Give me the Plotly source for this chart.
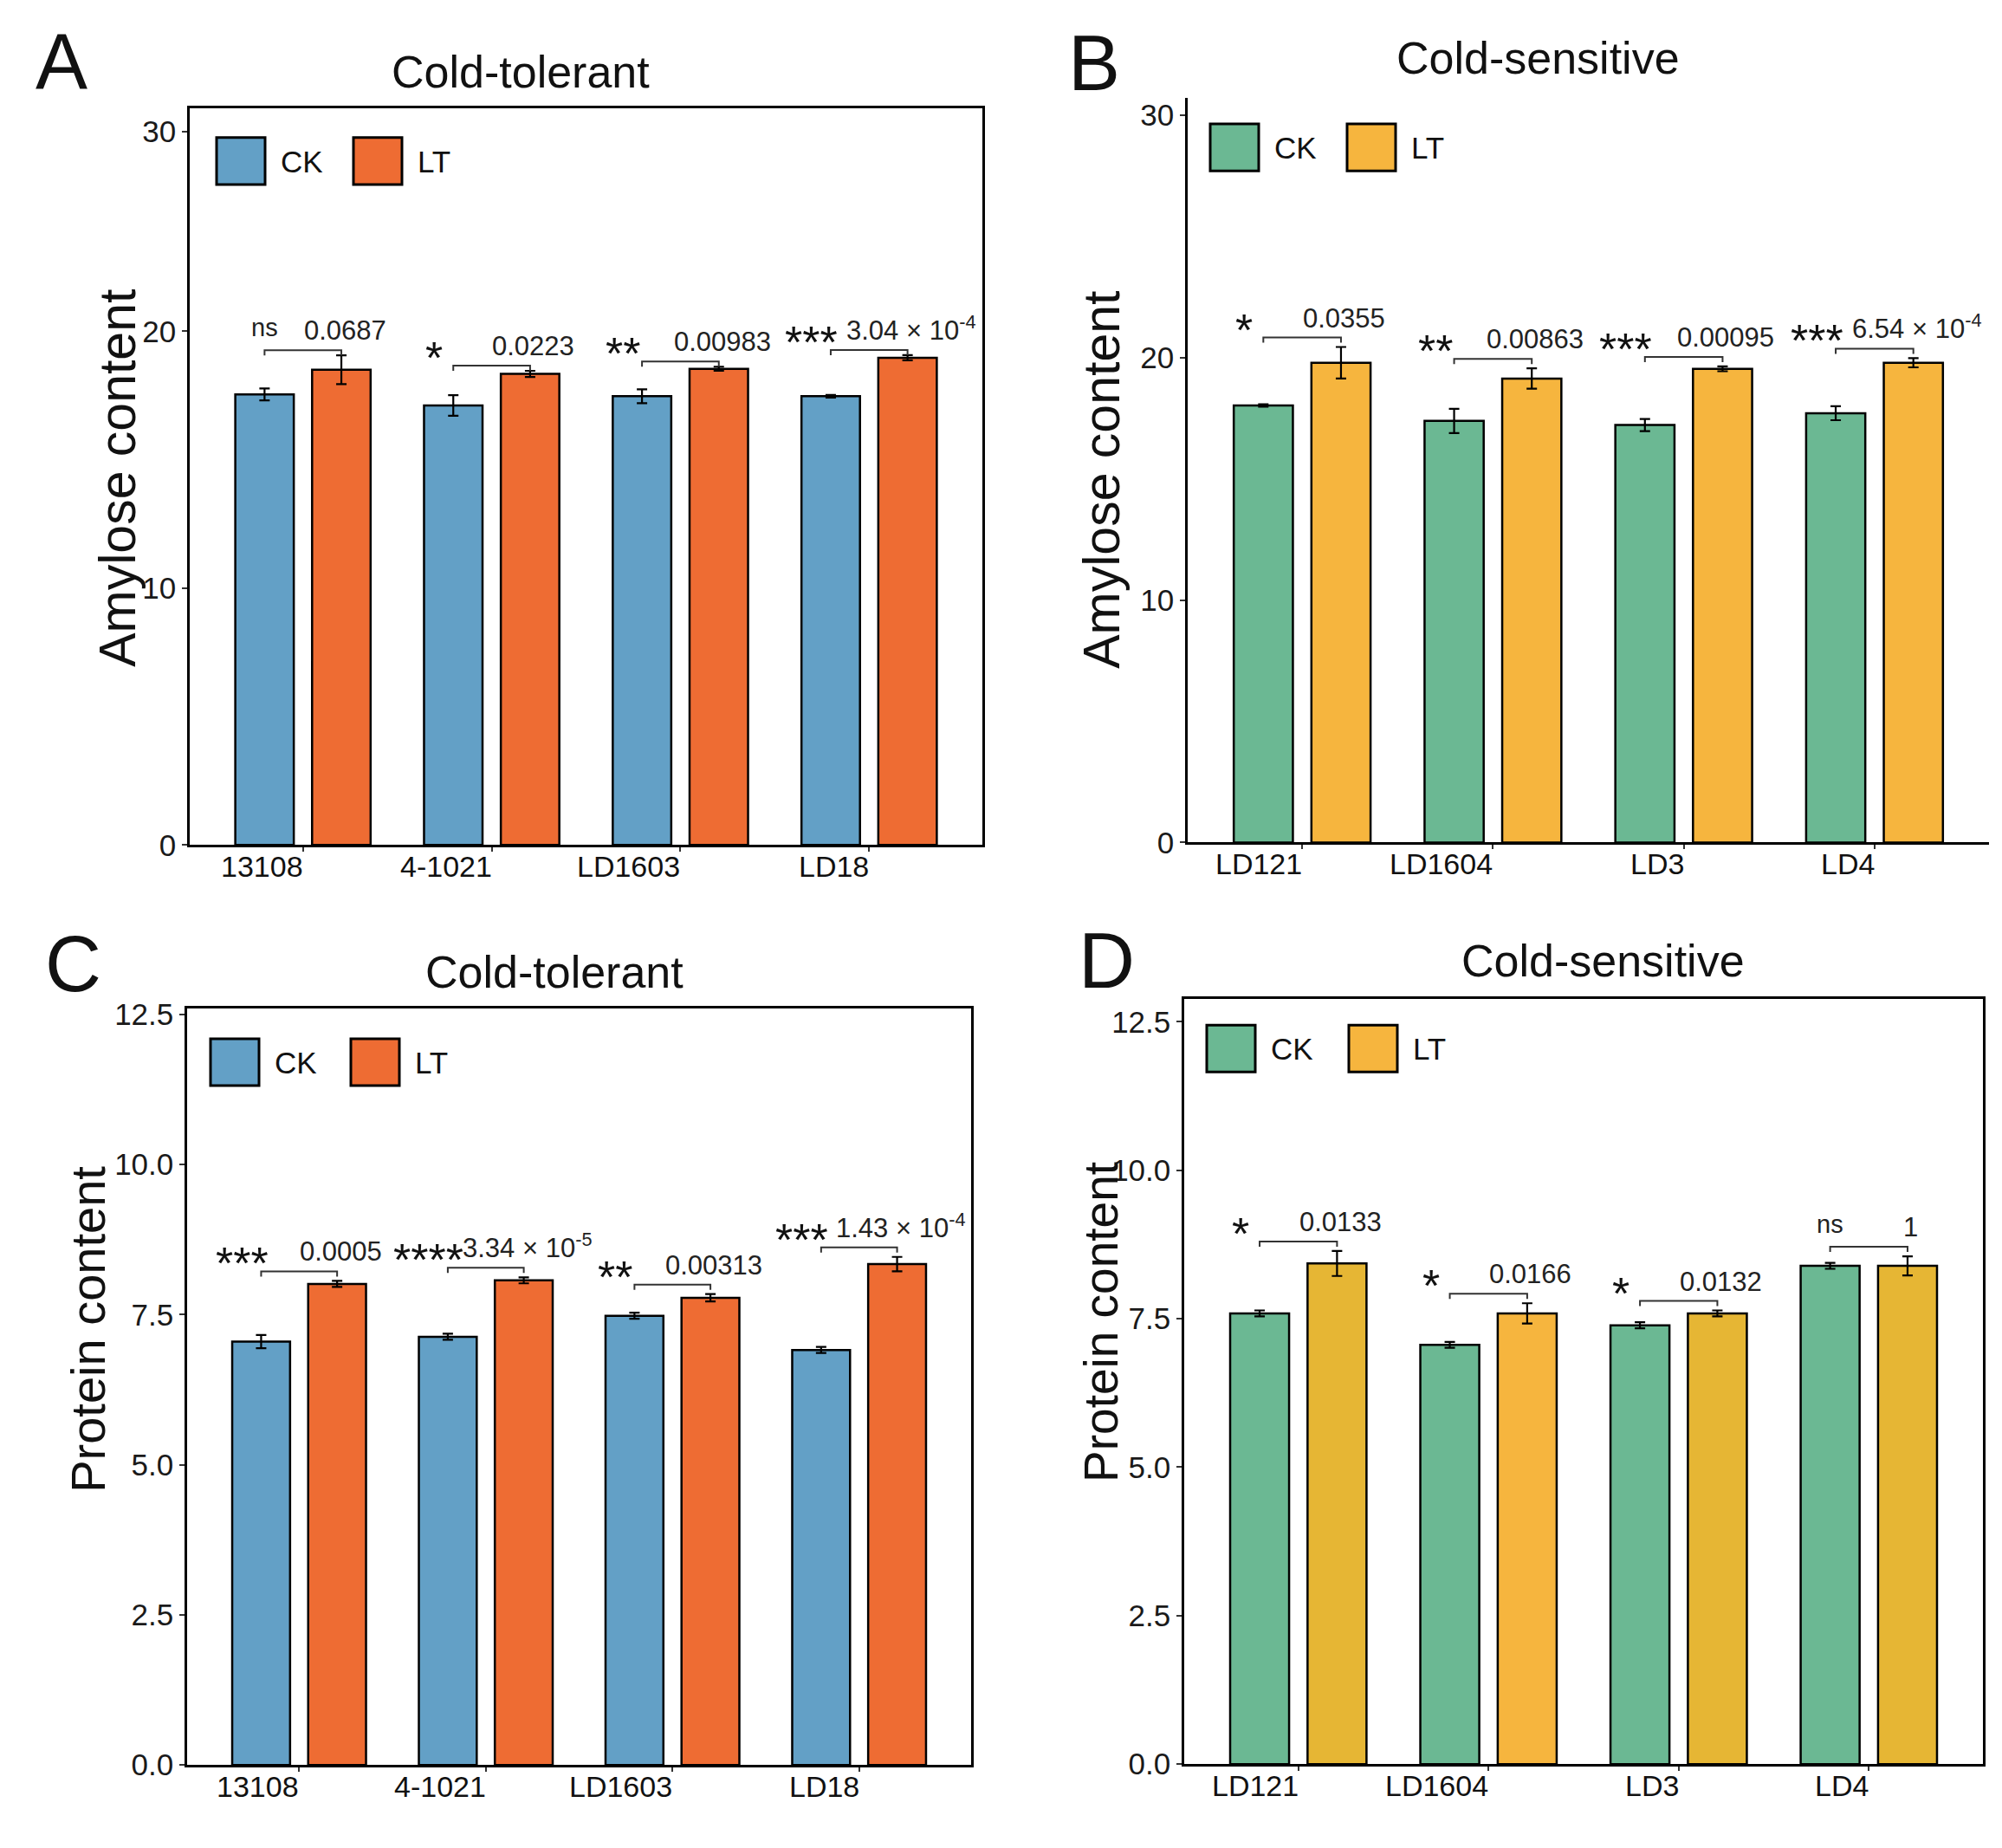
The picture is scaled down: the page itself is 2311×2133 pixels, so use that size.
import plotly.graph_objects as go

# ---- data ----
tolerant_lines = ["13108", "4-1021", "LD1603", "LD18"]
sensitive_lines = ["LD121", "LD1604", "LD3", "LD4"]

# A: amylose, cold-tolerant
amy_tol_ck = [17.54, 17.11, 17.47, 17.47]
amy_tol_ck_sd = [0.23, 0.40, 0.27, 0.05]
amy_tol_lt = [18.50, 18.34, 18.54, 18.97]
amy_tol_lt_sd = [0.56, 0.12, 0.08, 0.10]
amy_tol_sig = ["ns", "*", "**", "***"]
amy_tol_p = ["0.0687", "0.0223", "0.00983", "3.04 × 10<sup>-4</sup>"]

# B: amylose, cold-sensitive
amy_sen_ck = [18.03, 17.39, 17.22, 17.71]
amy_sen_ck_sd = [0.05, 0.50, 0.25, 0.29]
amy_sen_lt = [19.79, 19.14, 19.54, 19.79]
amy_sen_lt_sd = [0.65, 0.42, 0.10, 0.19]
amy_sen_sig = ["*", "**", "***", "***"]
amy_sen_p = ["0.0355", "0.00863", "0.00095", "6.54 × 10<sup>-4</sup>"]

# C: protein, cold-tolerant
pro_tol_ck = [7.05, 7.13, 7.48, 6.91]
pro_tol_ck_sd = [0.11, 0.05, 0.05, 0.05]
pro_tol_lt = [8.01, 8.07, 7.78, 8.34]
pro_tol_lt_sd = [0.05, 0.05, 0.06, 0.12]
pro_tol_sig = ["***", "****", "**", "***"]
pro_tol_p = ["0.0005", "3.34 × 10<sup>-5</sup>", "0.00313", "1.43 × 10<sup>-4</sup>"]

# D: protein, cold-sensitive
pro_sen_ck = [7.59, 7.06, 7.39, 8.39]
pro_sen_ck_sd = [0.05, 0.05, 0.05, 0.05]
pro_sen_lt = [8.43, 7.59, 7.59, 8.39]
pro_sen_lt_sd = [0.21, 0.17, 0.05, 0.16]
pro_sen_sig = ["*", "*", "*", "ns"]
pro_sen_p = ["0.0133", "0.0166", "0.0132", "1"]

W, H = 2311, 2133
FONT = "Liberation Sans, Arial, sans-serif"

BLUE, ORANGE = "#63A0C6", "#EE6C33"
GREEN, YELLOW, YELLOW_D = "#6BB893", "#F6B53E", "#E6B634"


def px(x):
    return x / W


def py(y):
    return 1 - y / H


panels = [
    dict(letter="A", title="Cold-tolerant", ytitle="Amylose content",
         cats=tolerant_lines, ck=amy_tol_ck, ck_sd=amy_tol_ck_sd,
         lt=amy_tol_lt, lt_sd=amy_tol_lt_sd, sig=amy_tol_sig, p=amy_tol_p,
         ck_col=BLUE, lt_col=[ORANGE] * 4, leg_lt=ORANGE,
         box=(219, 1134, 114, 977), ymax=28.67,
         tickvals=[0, 10, 20, 27.77], ticktext=["0", "10", "20", "30"],
         mirror=True, off=6, ptxt=31,
         title_xy=(601, 71), letter_xy=(71, 59), ytitle_xy=(136, 547), ytitle_size=59,
         leg=(250, 148, 408)),
    dict(letter="B", title="Cold-sensitive", ytitle="Amylose content",
         cats=sensitive_lines, ck=amy_sen_ck, ck_sd=amy_sen_ck_sd,
         lt=amy_sen_lt, lt_sd=amy_sen_lt_sd, sig=amy_sen_sig, p=amy_sen_p,
         ck_col=GREEN, lt_col=[YELLOW] * 4, leg_lt=YELLOW,
         box=(1371, 2296, 102, 974), ymax=30.7,
         tickvals=[0, 10, 20, 30], ticktext=["0", "10", "20", "30"],
         mirror=False, off=11, ptxt=31,
         title_xy=(1775, 55), letter_xy=(1263, 61), ytitle_xy=(1272, 549), ytitle_size=59,
         leg=(1397, 132, 1555)),
    dict(letter="C", title="Cold-tolerant", ytitle="Protein content",
         cats=tolerant_lines, ck=pro_tol_ck, ck_sd=pro_tol_ck_sd,
         lt=pro_tol_lt, lt_sd=pro_tol_lt_sd, sig=pro_tol_sig, p=pro_tol_p,
         ck_col=BLUE, lt_col=[ORANGE] * 4, leg_lt=ORANGE,
         box=(216, 1121, 1169, 2055), ymax=12.59,
         tickvals=[0, 2.5, 5, 7.5, 10, 12.5], ticktext=["0.0", "2.5", "5.0", "7.5", "10.0", "12.5"],
         mirror=True, off=11, ptxt=31,
         title_xy=(640, 1126), letter_xy=(84, 1117), ytitle_xy=(102, 1545), ytitle_size=56,
         leg=(243, 1204, 405)),
    dict(letter="D", title="Cold-sensitive", ytitle="Protein content",
         cats=sensitive_lines, ck=pro_sen_ck, ck_sd=pro_sen_ck_sd,
         lt=pro_sen_lt, lt_sd=pro_sen_lt_sd, sig=pro_sen_sig, p=pro_sen_p,
         ck_col=GREEN, lt_col=[YELLOW_D, YELLOW, YELLOW_D, YELLOW_D], leg_lt=YELLOW,
         box=(1367, 2289, 1157, 2054), ymax=12.89,
         tickvals=[0, 2.5, 5, 7.5, 10, 12.5], ticktext=["0.0", "2.5", "5.0", "7.5", "10.0", "12.5"],
         mirror=True, off=11, ptxt=31,
         title_xy=(1850, 1113), letter_xy=(1277, 1113), ytitle_xy=(1271, 1536), ytitle_size=55,
         leg=(1393, 1188, 1557)),
]

BAR_W = 0.31
GAP = 0.097
CK_OFF = -GAP / 2 - BAR_W
LT_OFF = GAP / 2
CK_C = CK_OFF + BAR_W / 2
LT_C = LT_OFF + BAR_W / 2

fig = go.Figure()
shapes = []
annots = []
layout = {}

for k, pn in enumerate(panels):
    n = "" if k == 0 else str(k + 1)
    xa, ya = "x" + n, "y" + n
    pos = list(range(len(pn["cats"])))
    x0, x1, y0, y1 = pn["box"]

    fig.add_trace(go.Bar(
        x=pos, y=pn["ck"], width=BAR_W, offset=CK_OFF, name="CK",
        marker=dict(color=pn["ck_col"], line=dict(color="black", width=2.5)),
        error_y=dict(type="data", array=pn["ck_sd"], color="black", thickness=2.2, width=6),
        xaxis=xa, yaxis=ya, showlegend=False))
    fig.add_trace(go.Bar(
        x=pos, y=pn["lt"], width=BAR_W, offset=LT_OFF, name="LT",
        marker=dict(color=pn["lt_col"], line=dict(color="black", width=2.5)),
        error_y=dict(type="data", array=pn["lt_sd"], color="black", thickness=2.2, width=6),
        xaxis=xa, yaxis=ya, showlegend=False))

    axis_common = dict(showline=True, linecolor="black", linewidth=2.5, mirror=pn["mirror"],
                       showgrid=False, zeroline=False, ticks="outside", ticklen=6,
                       tickwidth=2, tickcolor="#333")
    layout["xaxis" + n] = dict(axis_common, domain=[px(x0), px(x1)], anchor=ya,
                               range=[-0.6, len(pos) - 0.4], tickvals=pos,
                               showticklabels=False, ticklen=5)
    layout["yaxis" + n] = dict(axis_common, domain=[py(y1), py(y0)], anchor=xa,
                               range=[0, pn["ymax"]], tickvals=pn["tickvals"],
                               ticktext=pn["ticktext"],
                               tickfont=dict(family=FONT, size=35, color="#1a1a1a"))

    # significance brackets + labels
    off = pn["off"]
    for i in pos:
        top = max(pn["ck"][i] + pn["ck_sd"][i], pn["lt"][i] + pn["lt_sd"][i])
        xl, xr = i + CK_C, i + LT_C
        shapes.append(dict(
            type="path", xref=xa, yref=ya, ysizemode="pixel", yanchor=top,
            path=f"M{xl},{off - 6} L{xl},{off} L{xr},{off} L{xr},{off - 6}",
            line=dict(color="#333", width=2)))
        s = pn["sig"][i]
        if s == "ns":
            annots.append(dict(text=s, x=xl, y=top, xref=xa, yref=ya, xanchor="center",
                               yanchor="bottom", yshift=off + 8, showarrow=False,
                               font=dict(family=FONT, size=29, color="#222")))
        else:
            annots.append(dict(text=s, x=xl, y=top, xref=xa, yref=ya, xanchor="center",
                               yanchor="bottom", yshift=off - 22, xshift=-22, showarrow=False,
                               font=dict(family=FONT, size=52, color="#111")))
        annots.append(dict(text=pn["p"][i], x=xr, y=top, xref=xa, yref=ya, xanchor="center",
                           yanchor="bottom", yshift=off + 3, xshift=4, showarrow=False,
                           font=dict(family=FONT, size=pn["ptxt"], color="#222")))

    # category labels (right aligned to the tick)
    for i in pos:
        annots.append(dict(text=pn["cats"][i], x=i, y=0, xref=xa, yref=ya,
                           xanchor="right", yanchor="top", yshift=-4, xshift=2,
                           showarrow=False, font=dict(family=FONT, size=34, color="#111")))

    # titles
    tx, ty = pn["title_xy"]
    annots.append(dict(text=pn["title"], x=px(tx), y=py(ty), xref="paper", yref="paper",
                       xanchor="center", yanchor="middle", showarrow=False,
                       font=dict(family=FONT, size=52, color="#111")))
    lx, ly = pn["letter_xy"]
    annots.append(dict(text=pn["letter"], x=px(lx), y=py(ly), xref="paper", yref="paper",
                       xanchor="center", yanchor="middle", showarrow=False,
                       font=dict(family=FONT, size=90, color="#111")))
    yx, yy = pn["ytitle_xy"]
    annots.append(dict(text=pn["ytitle"], x=px(yx), y=py(yy), xref="paper", yref="paper",
                       xanchor="center", yanchor="middle", textangle=-90, showarrow=False,
                       font=dict(family=FONT, size=pn["ytitle_size"], color="#111")))

    # legend keys
    lck, ltop, llt = pn["leg"]
    for bx, col, lab in [(lck, pn["ck_col"], "CK"), (llt, pn["leg_lt"], "LT")]:
        shapes.append(dict(type="rect", xref="paper", yref="paper",
                           x0=px(bx), x1=px(bx + 56), y0=py(ltop + 55), y1=py(ltop),
                           fillcolor=col, line=dict(color="black", width=3)))
        annots.append(dict(text=lab, x=px(bx + 72), y=py(ltop + 28), xref="paper", yref="paper",
                           xanchor="left", yanchor="middle", showarrow=False,
                           font=dict(family=FONT, size=35, color="#111")))

fig.update_layout(
    width=W, height=H, autosize=False,
    margin=dict(l=0, r=0, t=0, b=0),
    paper_bgcolor="white", plot_bgcolor="white",
    barmode="overlay",
    shapes=shapes, annotations=annots,
    font=dict(family=FONT),
    **layout,
)

fig.write_html(
    "out.html",
    config={"displayModeBar": False},
    post_script="document.body.style.margin='0';document.documentElement.style.overflow='hidden';",
)
